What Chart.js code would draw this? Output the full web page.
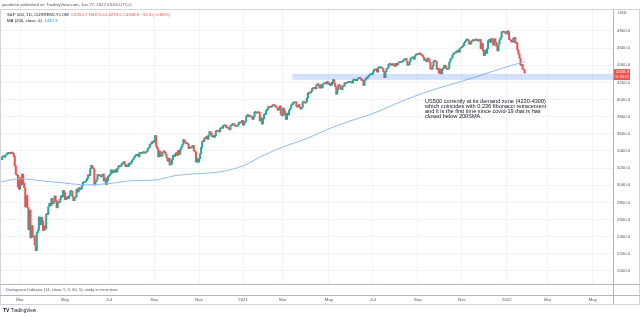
<!DOCTYPE html>
<html>
<head>
<meta charset="utf-8">
<script src="https://cdn.jsdelivr.net/npm/chart.js@4.4.1/dist/chart.umd.min.js"></script>
<style>
  html, body { margin: 0; background: #fff; }
  canvas { display: block; }
</style>
</head>
<body>
<canvas id="chart" width="640" height="317"></canvas>
<script>
// S&P 500 daily closes (CFD), 4 Feb 2020 -> 27 Jan 2022
const closes2020 = [
  3298, 3334, 3345, 3327, 3352, 3357, 3379, 3373, 3380, 3370, 3386, 3373, 3338, 3225, 3128, 3116, 2979, 2954,
  3090, 3003, 3130, 3024, 2972, 2747, 2882, 2741, 2481, 2711, 2386, 2529, 2398, 2409, 2305, 2237, 2447, 2476, 2630, 2541, 2627, 2585,
  2471, 2527, 2489, 2664, 2660, 2750, 2790, 2762, 2846, 2784, 2800, 2875, 2823, 2737, 2799, 2798, 2837, 2878, 2863, 2940, 2912,
  2831, 2842, 2868, 2848, 2881, 2930, 2930, 2870, 2820, 2852, 2864, 2954, 2922, 2972, 2949, 2955, 2992, 3036, 3030, 3044,
  3056, 3081, 3122, 3112, 3194, 3232, 3207, 3190, 3002, 3041, 3067, 3125, 3113, 3115, 3098, 3118, 3131, 3050, 3084, 3009, 3053, 3100,
  3116, 3130, 3180, 3145, 3169, 3152, 3185, 3155, 3197, 3227, 3216, 3225, 3251, 3257, 3276, 3236, 3216, 3239, 3218, 3258, 3246, 3271,
  3295, 3306, 3327, 3349, 3351, 3360, 3333, 3380, 3373, 3373, 3382, 3389, 3375, 3385, 3397, 3431, 3443, 3478, 3484, 3508, 3500,
  3527, 3580, 3455, 3427, 3332, 3399, 3339, 3341, 3384, 3401, 3385, 3357, 3319, 3281, 3315, 3237, 3247, 3298, 3351, 3335, 3363,
  3380, 3348, 3408, 3361, 3419, 3446, 3477, 3534, 3512, 3489, 3483, 3484, 3427, 3443, 3436, 3453, 3465, 3401, 3391, 3271, 3310, 3270,
  3310, 3370, 3443, 3510, 3509, 3550, 3545, 3572, 3537, 3585, 3627, 3610, 3568, 3582, 3558, 3577, 3635, 3630, 3638, 3622,
  3662, 3669, 3666, 3699, 3692, 3702, 3673, 3668, 3663, 3647, 3695, 3702, 3722, 3709, 3695, 3687, 3691, 3703, 3735, 3727, 3732, 3756
];
const closes2021 = [
  3701, 3726, 3748, 3804, 3825, 3799, 3801, 3810, 3795, 3768, 3799, 3852, 3853, 3841, 3855, 3849, 3751, 3787, 3714,
  3774, 3826, 3830, 3871, 3886, 3915, 3911, 3910, 3916, 3934, 3932, 3931, 3913, 3906, 3876, 3881, 3925, 3829, 3811,
  3901, 3870, 3820, 3768, 3842, 3821, 3875, 3898, 3939, 3943, 3969, 3962, 3974, 3915, 3913, 3940, 3910, 3889, 3909, 3974, 3971, 3959, 3973,
  4020, 4077, 4074, 4080, 4097, 4129, 4128, 4142, 4125, 4170, 4185, 4163, 4135, 4173, 4135, 4180, 4188, 4187, 4183, 4211, 4181,
  4193, 4165, 4168, 4202, 4233, 4189, 4152, 4063, 4113, 4174, 4164, 4128, 4116, 4160, 4156, 4197, 4189, 4196, 4201, 4204,
  4202, 4208, 4192, 4230, 4226, 4227, 4220, 4239, 4247, 4255, 4246, 4224, 4222, 4166, 4224, 4246, 4242, 4266, 4280, 4291, 4291, 4298,
  4320, 4352, 4344, 4358, 4320, 4369, 4384, 4369, 4374, 4360, 4327, 4258, 4323, 4359, 4368, 4412, 4422, 4401, 4400, 4419, 4395,
  4387, 4423, 4403, 4429, 4437, 4432, 4436, 4447, 4460, 4468, 4480, 4449, 4400, 4406, 4442, 4480, 4486, 4496, 4470, 4509, 4529, 4523,
  4524, 4537, 4535, 4520, 4514, 4493, 4459, 4469, 4443, 4481, 4474, 4433, 4358, 4354, 4396, 4449, 4455, 4443, 4353, 4360, 4308,
  4357, 4300, 4346, 4363, 4399, 4391, 4361, 4351, 4364, 4438, 4471, 4487, 4520, 4537, 4549, 4545, 4567, 4575, 4552, 4596, 4605,
  4614, 4631, 4660, 4680, 4697, 4702, 4685, 4646, 4649, 4683, 4682, 4701, 4688, 4704, 4698, 4682, 4690, 4701, 4595, 4655, 4567,
  4513, 4577, 4538, 4592, 4686, 4701, 4667, 4712, 4669, 4634, 4710, 4669, 4620, 4568, 4649, 4697, 4726, 4791, 4786, 4793, 4778, 4766
];
const closes2022 = [4797, 4793, 4701, 4696, 4677, 4670, 4713, 4726, 4659, 4663, 4577, 4533, 4483, 4398, 4410, 4357, 4346.3, 4308.9];

// trading days per month, Feb 2020 .. Apr 2022 (first bar of data = 2nd session of Feb 2020)
const monthDays = [19, 22, 21, 20, 22, 22, 21, 21, 22, 20, 22, 19, 19, 23, 21, 20, 22, 21, 22, 21, 21, 21, 22, 20, 19, 23, 20];
const tickMonths = [1, 3, 5, 7, 9, 11, 13, 15, 17, 19, 21, 23, 25, 27];
const tickLabels = ['Mar', 'May', 'Jul', 'Sep', 'Nov', '2021', 'Mar', 'May', 'Jul', 'Sep', 'Nov', '2022', 'Mar', 'May'];

// MA(200) read at the first session of each month (Feb 2020 .. Jan 2022) + last bar
const smaValues = [3040, 3075, 3050, 3025, 3005, 3020, 3053, 3060, 3114, 3136, 3157, 3227, 3346, 3446, 3546,
                   3659, 3749, 3836, 3946, 4054, 4139, 4213, 4295, 4383, 4442.3];

const priceTicks = [2000, 2200, 2400, 2600, 2800, 3000, 3200, 3400, 3600, 3800, 4000, 4200, 4400, 4600, 4800];
const zoneLow = 4230, zoneHigh = 4300;
const zoneStartBar = 260; // 12 Mar 2021

const noteLines = [
  'US500 currently at its demand zone (4230-4300)',
  'which coincides with 0.236 fibonacci retracement',
  'and it is the first time since covid-19 that is has',
  'closed below 200SMA.'
];

// ── build index positions ─────────────────────────────────────────────
const monthStart = [-19];
monthDays.forEach(d => monthStart.push(monthStart[monthStart.length - 1] + d));
// monthStart[1] = 0 -> 2 Mar 2020
const closes = [...closes2020, ...closes2021, ...closes2022];
const firstBar = -18;

const candles = [];
const candleColors = [];
closes.forEach((c, i) => {
  const prev = i ? closes[i - 1] : c;
  candles.push({ x: firstBar + i, y: [prev, c] });
  candleColors.push(c >= prev ? '#26a69a' : '#ef5350');
});

const lastBar = firstBar + closes.length - 1;
const smaPoints = smaValues.map((v, i) => {
  let x;
  if (i === 0) x = firstBar;
  else if (i === smaValues.length - 1) x = lastBar;
  else x = monthStart[i];
  return { x, y: v };
});

const FONT = '"Liberation Sans", Arial, sans-serif';

function txt(ctx, s, x, y, size, color, weight) {
  ctx.font = (weight || 'normal') + ' ' + size + 'px ' + FONT;
  ctx.fillStyle = color;
  ctx.textBaseline = 'middle';
  ctx.textAlign = 'left';
  ctx.fillText(s, x, y);
  return ctx.measureText(s).width;
}

const overlay = {
  id: 'overlay',
  afterDatasetsDraw(chart) {
    const { ctx, chartArea, scales: { x, y } } = chart;
    ctx.save();
    const x1 = x.getPixelForValue(zoneStartBar);
    const yTop = y.getPixelForValue(zoneHigh);
    const yBot = y.getPixelForValue(zoneLow);
    ctx.fillStyle = 'rgba(41, 98, 255, 0.2)';
    ctx.fillRect(x1, yTop, chartArea.right - x1, yBot - yTop);
    ctx.restore();
  },
  afterDraw(chart) {
    const { ctx, chartArea, scales: { y } } = chart;
    ctx.save();

    // frame
    ctx.strokeStyle = '#d1d4dc';
    ctx.lineWidth = 1;
    ctx.strokeRect(0.5, 9.5, 639, 295);
    ctx.strokeStyle = '#b2b5be';
    ctx.beginPath();
    ctx.moveTo(0, 284.5); ctx.lineTo(640, 284.5);
    ctx.moveTo(0, 295.5); ctx.lineTo(640, 295.5);
    ctx.moveTo(chartArea.right + 0.5, 9.5); ctx.lineTo(chartArea.right + 0.5, 304.5);
    ctx.stroke();

    // header
    txt(ctx, 'javidemir published on TradingView.com, Jan 27, 2022 03:06 UTC-5', 2, 5, 4.3, '#50535e');
    let w = txt(ctx, 'S&P 500, 1D, CURRENCYCOM  ', 7, 14.5, 4.3, '#131722');
    txt(ctx, 'O4355.7 H4375.6 L4279.6 C' + closes[closes.length - 1].toFixed(1) + ' \u221237.4 (\u22120.86%)', 7 + w, 14.5, 4.3, '#ef5350');
    w = txt(ctx, 'MA (200, close, 0)  ', 7, 20.5, 4.3, '#131722');
    txt(ctx, smaValues[smaValues.length - 1].toFixed(1), 7 + w, 20.5, 4.3, '#2196f3');

    // note
    noteLines.forEach((s, i) => txt(ctx, s, 425, 101 + i * 5.2, 5.6, '#131722'));

    // lower pane + logo
    txt(ctx, 'Divergence Indicator (14, close, 5, 5, 60, 5): study in error state', 6, 290, 4, '#50535e');
    w = txt(ctx, 'TV ', 3, 310.5, 5, '#131722', 'bold');
    txt(ctx, 'TradingView', 3 + w, 310.5, 4.6, '#131722');

    // axis currency + last price label
    txt(ctx, 'USD', 618, 13, 4.2, '#50535e');
    const py = y.getPixelForValue(closes[closes.length - 1]);
    ctx.fillStyle = '#ef5350';
    ctx.fillRect(chartArea.right + 1, py - 4, 16, 11);
    txt(ctx, closes[closes.length - 1].toFixed(1), chartArea.right + 3, py - 1, 4.2, '#ffffff');
    txt(ctx, '11:53:22', chartArea.right + 2, py + 3.5, 3.6, '#ffffff');
    ctx.restore();
  }
};

new Chart(document.getElementById('chart'), {
  type: 'bar',
  data: {
    datasets: [
      {
        type: 'line',
        data: smaPoints,
        borderColor: '#8fbcec',
        borderWidth: 1,
        pointRadius: 0,
        cubicInterpolationMode: 'monotone',
        order: 0,
      },
      {
        type: 'bar',
        data: candles,
        backgroundColor: candleColors,
        barThickness: 1.4,
        minBarLength: 1,
        order: 1,
      },
    ],
  },
  options: {
    responsive: false,
    animation: false,
    layout: { padding: { top: 10, left: 1, right: 0, bottom: 0 } },
    plugins: { legend: { display: false }, tooltip: { enabled: false } },
    scales: {
      x: {
        type: 'linear',
        offset: false,
        min: -18.15,
        max: 566.35,
        afterBuildTicks: s => { s.ticks = tickMonths.map(m => ({ value: monthStart[m] })); },
        afterFit: s => { s.height = 33; },
        ticks: {
          autoSkip: false,
          maxRotation: 0,
          padding: 13,
          color: '#50535e',
          font: { family: FONT, size: 4.3 },
          callback: (v, i) => tickLabels[i],
        },
        grid: { color: '#f0f3fa', drawTicks: false, offset: false },
        border: { display: false },
      },
      y: {
        position: 'right',
        min: 1848,
        max: 5045,
        afterBuildTicks: s => { s.ticks = priceTicks.map(v => ({ value: v })); },
        afterFit: s => { s.width = 27; },
        ticks: {
          padding: 4,
          color: '#50535e',
          font: { family: FONT, size: 4.3 },
          callback: v => v.toFixed(1),
        },
        grid: { color: '#f0f3fa', drawTicks: false },
        border: { display: false },
      },
    },
  },
  plugins: [overlay],
});
</script>
</body>
</html>
